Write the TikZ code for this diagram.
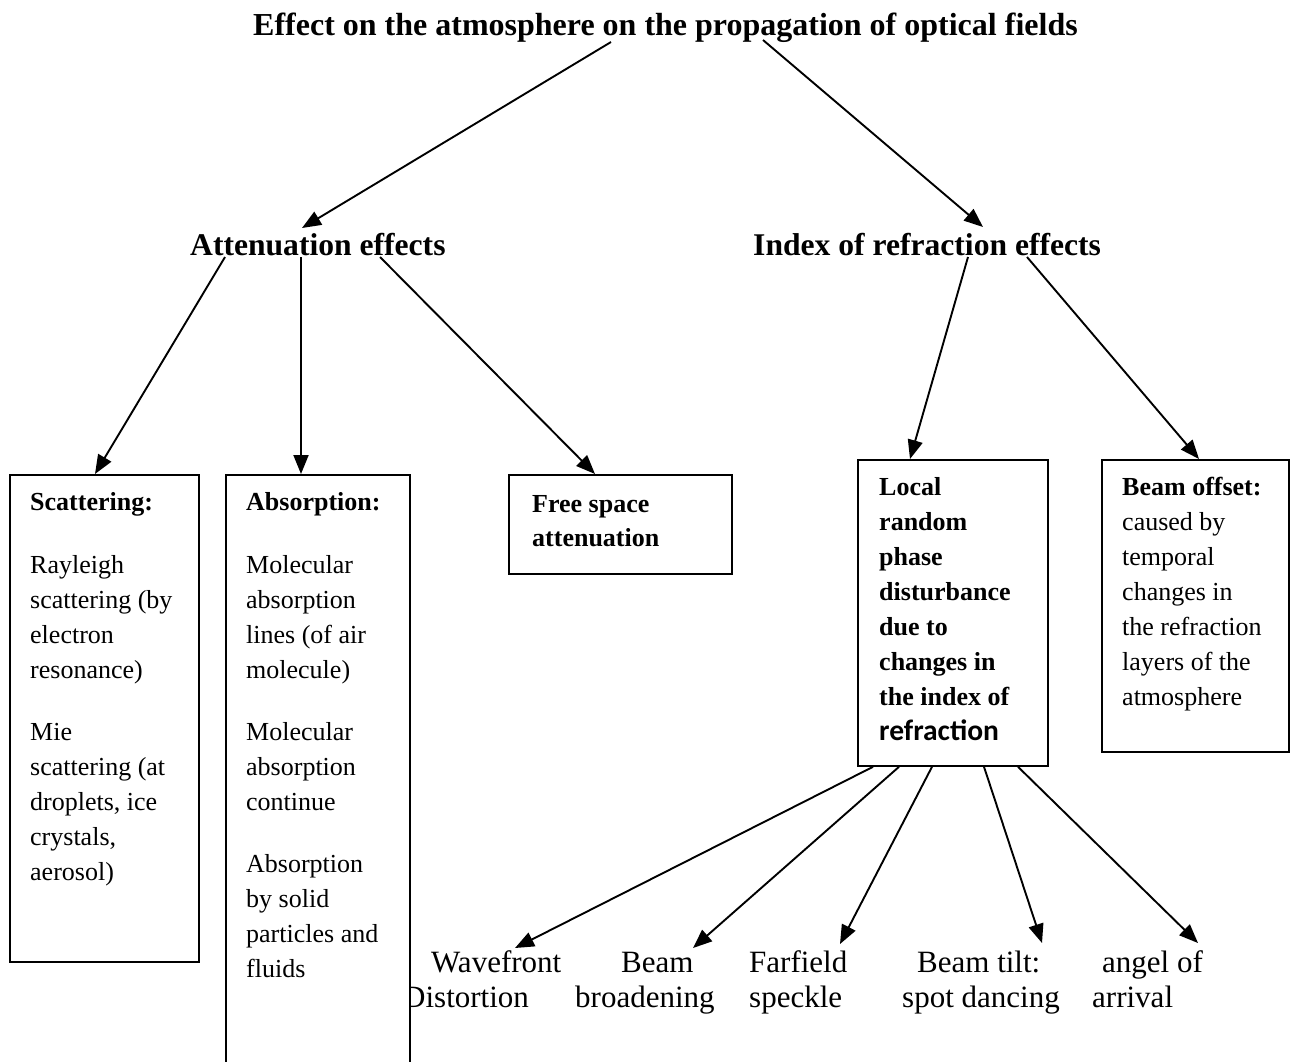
\documentclass[tikz,border=0pt]{standalone}
\usepackage{fontspec}
\setmainfont{Liberation Serif}
\newfontfamily\calibrifont{Carlito}
\usetikzlibrary{arrows.meta}
\newcommand{\lines}[1]{\begin{tabular}[t]{@{}l@{}}#1\end{tabular}}
\begin{document}
\begin{tikzpicture}[x=1pt,y=-1pt,
  boxnode/.style={draw, line width=1.8pt, fill=white, inner sep=0pt, anchor=north west},
  arr/.style={line width=1.9pt, -{Triangle[length=19pt,width=15pt]}},
  txt/.style={inner sep=0pt, anchor=base west},
  titlefont/.style={font=\fontsize{32}{38}\selectfont\bfseries},
  headfont/.style={font=\fontsize{31.6}{38}\selectfont\bfseries},
  bodyfont/.style={font=\fontsize{26}{35}\selectfont},
  leaffont/.style={font=\fontsize{31}{35}\selectfont}]
\useasboundingbox (0,0) rectangle (1290,1061);

% title and headings
\node[txt, titlefont] (title) at (253,35) {Effect on the atmosphere on the propagation of optical fields};
\node[txt, headfont] (att) at (190,255) {Attenuation effects};
\node[txt, headfont] (idx) at (753,255) {Index of refraction effects};

% bottom labels
\node[txt, leaffont] (wf) at (403,972) {\lines{\hspace*{28pt}Wavefront\\Distortion}};
\node[txt, leaffont] (bb) at (575,972) {\lines{\hspace*{46pt}Beam\\broadening}};
\node[txt, leaffont] (ff) at (749,972) {\lines{Farfield\\speckle}};
\node[txt, leaffont] (bt) at (902,972) {\lines{\hspace*{15pt}Beam tilt:\\spot dancing}};
\node[txt, leaffont] (ao) at (1092,972) {\lines{\hspace*{10pt}angel of\\arrival}};

% boxes
\node[boxnode, minimum width=189pt, minimum height=487pt] (scat) at (9,474) {};
\node[boxnode, minimum width=184pt, minimum height=606pt] (abs) at (225,474) {};
\node[boxnode, minimum width=223pt, minimum height=99pt] (free) at (508,474) {};
\node[boxnode, minimum width=190pt, minimum height=306pt] (loc) at (857,459) {};
\node[boxnode, minimum width=187pt, minimum height=292pt] (off) at (1101,459) {};

% box texts
\node[txt, bodyfont] (scattxt) at (30,510) {\lines{\textbf{Scattering:}\\[28pt]
Rayleigh\\scattering (by\\electron\\resonance)\\[27pt]
Mie\\scattering (at\\droplets, ice\\crystals,\\aerosol)}};
\node[txt, bodyfont] (abstxt) at (246,510) {\lines{\textbf{Absorption:}\\[28pt]
Molecular\\absorption\\lines (of air\\molecule)\\[27pt]
Molecular\\absorption\\continue\\[27pt]
Absorption\\by solid\\particles and\\fluids}};
\node[txt, font=\fontsize{26}{34}\selectfont\bfseries] (freetxt) at (532,512) {\lines{Free space\\attenuation}};
\node[txt, font=\fontsize{26}{35}\selectfont\bfseries] (loctxt) at (879,495) {\lines{Local\\random\\phase\\disturbance\\due to\\changes in\\the index of\\{\calibrifont\fontsize{29.5}{35}\selectfont refraction}}};
\node[txt, bodyfont] (offtxt) at (1122,495) {\lines{\textbf{Beam offset:}\\caused by\\temporal\\changes in\\the refraction\\layers of the\\atmosphere}};

% connectors
\draw[arr] ([shift={(358,7)}]title.base west) -- ([shift={(112,-27)}]att.base west);
\draw[arr] ([shift={(510,5)}]title.base west) -- ([shift={(230,-28)}]idx.base west);

\draw[arr] ([shift={(35,2)}]att.base west) -- ([shift={(86,0)}]scat.north west);
\draw[arr] ([shift={(111,2)}]att.base west) -- ([shift={(76,0)}]abs.north west);
\draw[arr] ([shift={(190,2)}]att.base west) -- ([shift={(87,0)}]free.north west);

\draw[arr] ([shift={(215,2)}]idx.base west) -- ([shift={(53,0)}]loc.north west);
\draw[arr] ([shift={(274,2)}]idx.base west) -- ([shift={(98,0)}]off.north west);

\draw[arr] ([shift={(16,0)}]loc.south west) -- ([shift={(112,-24)}]wf.base west);
\draw[arr] ([shift={(42,0)}]loc.south west) -- ([shift={(118,-24)}]bb.base west);
\draw[arr] ([shift={(75,0)}]loc.south west) -- ([shift={(91,-28)}]ff.base west);
\draw[arr] ([shift={(127,0)}]loc.south west) -- ([shift={(140,-29)}]bt.base west);
\draw[arr] ([shift={(161,0)}]loc.south west) -- ([shift={(106,-29)}]ao.base west);
\end{tikzpicture}
\end{document}
